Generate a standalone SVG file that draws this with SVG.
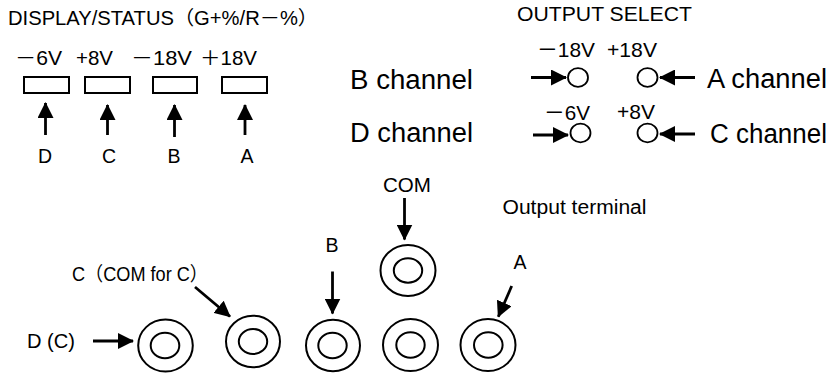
<svg xmlns="http://www.w3.org/2000/svg" width="835" height="374" viewBox="0 0 835 374">
<style>
text{font-family:"Liberation Sans","Noto Sans CJK JP",Arial,sans-serif;fill:#000}
.t19{font-size:19.5px}
.t21{font-size:20.5px}
.t27{font-size:27px}
.box{fill:#fff;stroke:#000;stroke-width:2}
.ring{fill:none;stroke:#000;stroke-width:2}
.sel{fill:#fff;stroke:#000;stroke-width:1.8}
.arr{stroke:#000;stroke-width:2.8;fill:none;marker-end:url(#ah)}
</style>
<defs>
<marker id="ah" markerUnits="userSpaceOnUse" markerWidth="16" markerHeight="16" refX="15" refY="8" orient="auto">
<path d="M0,0 L16,8 L0,16 z" fill="#000"/>
</marker>
</defs>
<g id="display">
<text class="t19" x="8" y="25" textLength="310" lengthAdjust="spacingAndGlyphs">DISPLAY/STATUS（G+%/R－%）</text>
<g id="disp-D"><text class="t19" x="15" y="65" textLength="47" lengthAdjust="spacingAndGlyphs">－6V</text><rect class="box" x="24" y="77" width="45" height="16"/><text class="t19" x="45" y="162.5" text-anchor="middle">D</text></g>
<g id="disp-C"><text class="t19" x="76" y="65" textLength="37" lengthAdjust="spacingAndGlyphs">+8V</text><rect class="box" x="85" y="77" width="45" height="16"/><text class="t19" x="109" y="162.5" text-anchor="middle">C</text></g>
<g id="disp-B"><text class="t19" x="131" y="65" textLength="61" lengthAdjust="spacingAndGlyphs">－18V</text><rect class="box" x="153" y="77" width="44" height="16"/><text class="t19" x="174" y="162.5" text-anchor="middle">B</text></g>
<g id="disp-A"><text class="t19" x="200" y="65" textLength="57" lengthAdjust="spacingAndGlyphs">＋18V</text><rect class="box" x="222" y="77" width="45" height="16"/><text class="t19" x="247" y="162.5" text-anchor="middle">A</text></g>
</g>
<g id="output-select">
<text class="t21" x="517" y="20.7" textLength="175" lengthAdjust="spacingAndGlyphs">OUTPUT SELECT</text>
<g id="sel-B"><text class="t27" x="350" y="88.5" textLength="123" lengthAdjust="spacingAndGlyphs">B channel</text><text class="t21" x="537" y="56.7" textLength="58" lengthAdjust="spacingAndGlyphs">－18V</text><ellipse class="sel" cx="578" cy="77.5" rx="10" ry="9.3"/></g>
<g id="sel-A"><text class="t27" x="707" y="88" textLength="120" lengthAdjust="spacingAndGlyphs">A channel</text><text class="t21" x="607" y="56.7" textLength="50" lengthAdjust="spacingAndGlyphs">+18V</text><ellipse class="sel" cx="647.5" cy="77.5" rx="10" ry="9.3"/></g>
<g id="sel-D"><text class="t27" x="350" y="142" textLength="123" lengthAdjust="spacingAndGlyphs">D channel</text><text class="t21" x="544" y="120" textLength="46" lengthAdjust="spacingAndGlyphs">－6V</text><ellipse class="sel" cx="580.5" cy="133" rx="10" ry="9.3"/></g>
<g id="sel-C"><text class="t27" x="710" y="143" textLength="117" lengthAdjust="spacingAndGlyphs">C channel</text><text class="t21" x="617" y="119" textLength="38" lengthAdjust="spacingAndGlyphs">+8V</text><ellipse class="sel" cx="647.5" cy="133" rx="10" ry="9.3"/></g>
</g>
<g id="terminals">
<text class="t19" x="502.5" y="213.5" textLength="144" lengthAdjust="spacingAndGlyphs">Output terminal</text>
<g id="term-COM"><text class="t19" x="383" y="191.7" textLength="48" lengthAdjust="spacingAndGlyphs">COM</text><ellipse class="ring" cx="408" cy="270.5" rx="27.5" ry="25.5"/><ellipse class="ring" cx="408" cy="270.5" rx="14.2" ry="12.2"/></g>
<g id="term-D"><text class="t19" x="27" y="348" textLength="48" lengthAdjust="spacingAndGlyphs">D (C)</text><ellipse class="ring" cx="165.5" cy="345.5" rx="27.3" ry="26"/><ellipse class="ring" cx="165" cy="345.5" rx="14.3" ry="12.8"/></g>
<g id="term-C"><text class="t19" x="72" y="281" textLength="136" lengthAdjust="spacingAndGlyphs">C（COM for C）</text><ellipse class="ring" cx="253" cy="341.5" rx="27" ry="25.8"/><ellipse class="ring" cx="253" cy="341.5" rx="14.2" ry="12.5"/></g>
<g id="term-B"><text class="t19" x="332" y="251.5" text-anchor="middle">B</text><ellipse class="ring" cx="333" cy="345.5" rx="27" ry="25.8"/><ellipse class="ring" cx="332.5" cy="345.5" rx="14.2" ry="12.8"/></g>
<g id="term-COM2"><ellipse class="ring" cx="410.5" cy="345" rx="27.5" ry="26"/><ellipse class="ring" cx="410.5" cy="345" rx="14.2" ry="12.8"/></g>
<g id="term-A"><text class="t19" x="520" y="268.5" text-anchor="middle">A</text><ellipse class="ring" cx="488" cy="345" rx="27.5" ry="26"/><ellipse class="ring" cx="488.3" cy="345" rx="14.3" ry="12.8"/></g>
</g>
<g id="connectors">
<line class="arr" x1="45.5" y1="135" x2="45.5" y2="103"/>
<line class="arr" x1="107.5" y1="135" x2="107.5" y2="105"/>
<line class="arr" x1="174.5" y1="137" x2="174.5" y2="105"/>
<line class="arr" x1="245" y1="135" x2="245" y2="105"/>
<line class="arr" x1="531" y1="77.5" x2="566" y2="77.5"/>
<line class="arr" x1="695" y1="77.5" x2="660" y2="77.5"/>
<line class="arr" x1="533" y1="135" x2="568" y2="135"/>
<line class="arr" x1="695" y1="134" x2="660" y2="134"/>
<line class="arr" x1="93" y1="341" x2="133" y2="341"/>
<line class="arr" x1="195" y1="287" x2="230" y2="316.5"/>
<line class="arr" x1="332.5" y1="271.5" x2="332.5" y2="313.5"/>
<line class="arr" x1="404.5" y1="198" x2="404.5" y2="239.5"/>
<line class="arr" x1="511.7" y1="286" x2="498.3" y2="316.7"/>
</g>
</svg>
